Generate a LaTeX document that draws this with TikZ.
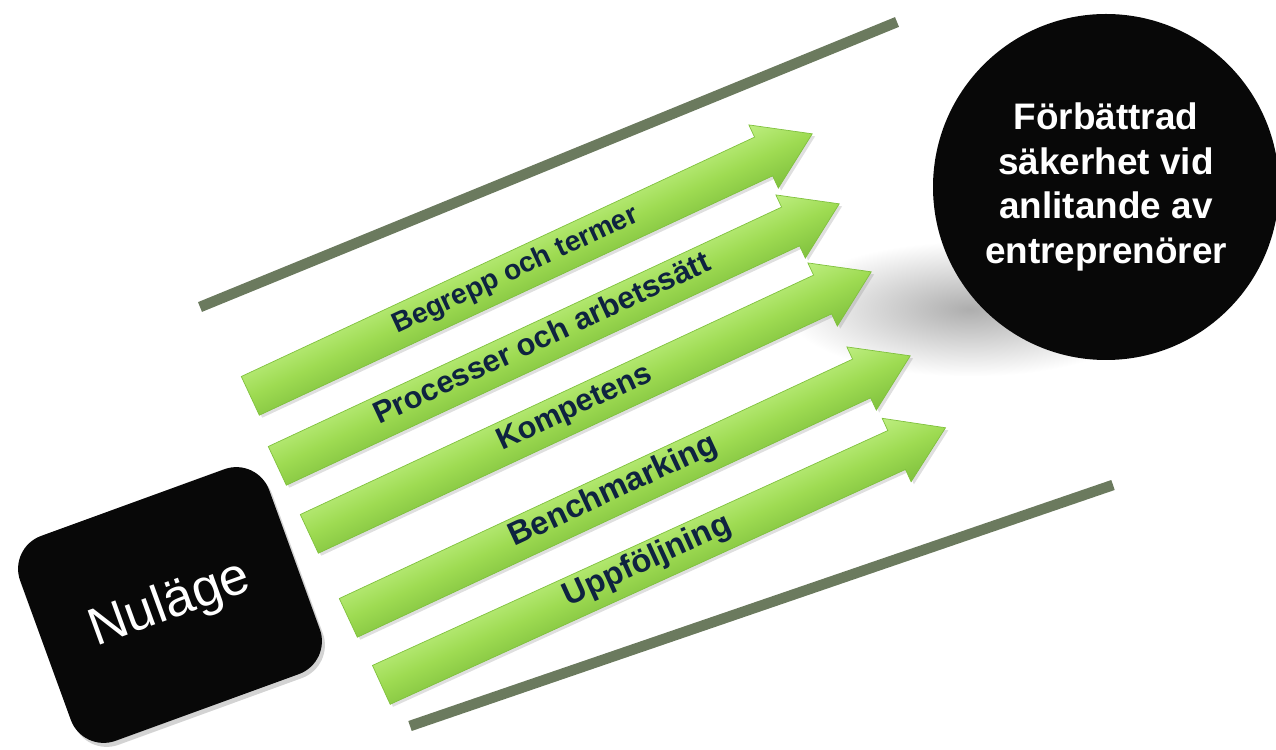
\documentclass[tikz,border=0pt]{standalone}
\usepackage{fontspec}
\setmainfont{Liberation Sans}
\usepackage{xcolor}
\usepackage{tikz}
\usetikzlibrary{shapes,arrows,positioning,shadows}

\definecolor{leafgreen}{HTML}{9EDB52}
\definecolor{leaftop}{HTML}{BDEE80}
\definecolor{leafdark}{HTML}{80C13E}
\definecolor{inknavy}{HTML}{0E2340}
\definecolor{railgray}{HTML}{6B7A5E}

\tikzset{
    greenarrow/.style={single arrow, draw=leafdark, line width=0.4pt,
        top color=leaftop, bottom color=leafdark, middle color=leafgreen,
        minimum height=12.4cm, minimum width=1.38cm,
        single arrow head extend=0.27cm, single arrow tip angle=66,
        text height=0.32cm, text depth=0.08cm, inner ysep=0.22cm,
        text=inknavy, anchor=tail,
        drop shadow={shadow xshift=0.03cm, shadow yshift=-0.07cm, opacity=0.25}},
    nowbox/.style={rectangle, rounded corners=0.7cm, fill=black!97,
        minimum width=5.3cm, minimum height=4.36cm, rotate=20, text=white,
        font=\fontsize{30}{36}\selectfont,
        drop shadow={shadow xshift=0.06cm, shadow yshift=-0.08cm, opacity=0.35}},
    goalcircle/.style={circle, fill=black!97, minimum size=6.92cm, text=white,
        align=center, font=\bfseries\fontsize{21}{25.5}\selectfont},
    rail/.style={draw=railgray, line width=6pt},
}

\begin{document}
\begin{tikzpicture}
    \useasboundingbox (0,0) rectangle (25.52,14.98);

    % lines above and below the arrows
    \coordinate (topstart) at (4.00,8.84);
    \coordinate (topend) at (17.94,14.54);
    \coordinate (botstart) at (8.20,0.46);
    \coordinate (botend) at (22.26,5.28);
    \draw[rail] (topstart) -- (topend);
    \draw[rail] (botstart) -- (botend);

    % goal
    \shade[inner color=black!32, outer color=white] (19.4,8.8) ellipse [x radius=3.7cm, y radius=1.35cm];
    \node[goalcircle] (goal) at (22.12,11.24) {Förbättrad\\säkerhet vid\\anlitande av\\entreprenörer};

    % arrows (canvas rotated so the shading follows the shaft)
    \begin{scope}[transform canvas={rotate around={25:(5.00,7.06)}}]
        \node[greenarrow, font=\bfseries\fontsize{16}{19}\selectfont] (begrepp) at (5.00,7.06) {Begrepp och termer};
    \end{scope}
    \begin{scope}[transform canvas={rotate around={25:(5.54,5.66)}}]
        \node[greenarrow, font=\bfseries\fontsize{17.5}{21}\selectfont] (processer) at (5.54,5.66) {Processer och arbetssätt};
    \end{scope}
    \begin{scope}[transform canvas={rotate around={25:(6.18,4.30)}}]
        \node[greenarrow, font=\bfseries\fontsize{17.5}{21}\selectfont] (kompetens) at (6.18,4.30) {Kompetens};
    \end{scope}
    \begin{scope}[transform canvas={rotate around={25:(6.96,2.62)}}]
        \node[greenarrow, font=\bfseries\fontsize{18.5}{22}\selectfont] (benchmarking) at (6.96,2.62) {Benchmarking};
    \end{scope}
    \begin{scope}[transform canvas={rotate around={24.5:(7.62,1.28)}}]
        \node[greenarrow, font=\bfseries\fontsize{18.5}{22}\selectfont] (uppfoljning) at (7.62,1.28) {Uppföljning};
    \end{scope}

    % start
    \node[nowbox] (nulage) at (3.40,2.88) {Nuläge};
\end{tikzpicture}
\end{document}
